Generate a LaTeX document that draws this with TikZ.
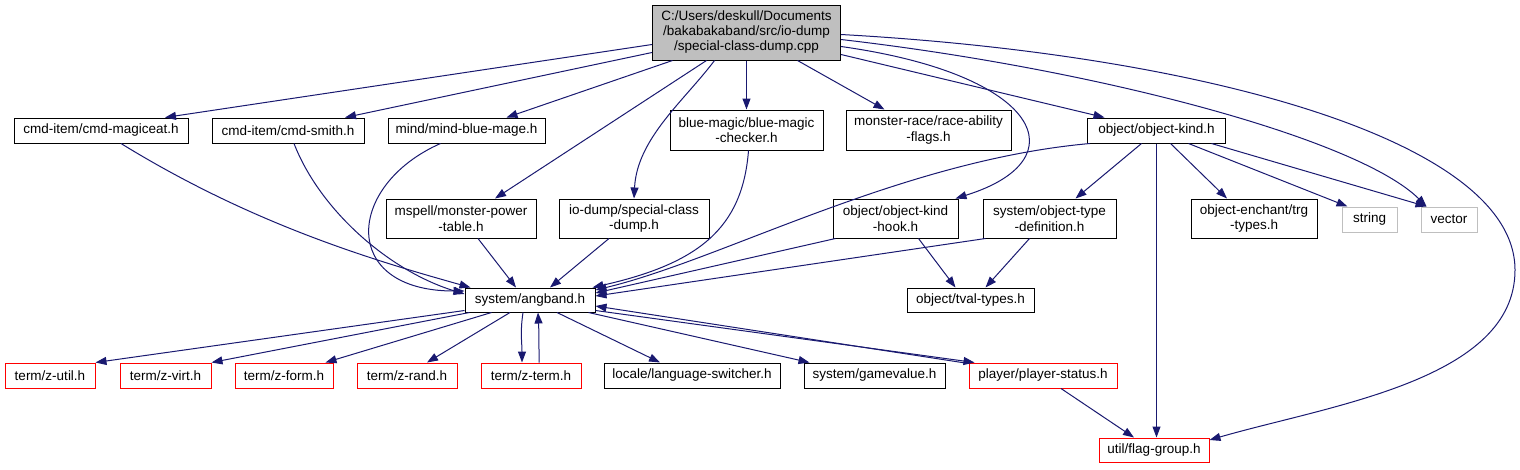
\documentclass[tikz,border=0pt]{standalone}
\usepackage{fontspec}
\setmainfont{Liberation Sans}
\usepackage{tikz}
\usetikzlibrary{positioning, arrows.meta, calc}
\definecolor{depblue}{HTML}{191970}
\definecolor{srcgray}{HTML}{BFBFBF}

\begin{document}
\begin{tikzpicture}[x=1pt, y=-1pt,
    hdr/.style={draw=black, fill=white, line width=1pt, inner sep=0pt, align=center,
        minimum height=25, font=\fontsize{13.5}{15.5}\selectfont},
    hdrtwo/.style={hdr, minimum height=39},
    hdrred/.style={hdr, draw=red},
    hdrsys/.style={hdr, draw=srcgray},
    hdrsrc/.style={hdr, fill=srcgray, minimum height=55, font=\fontsize{13.5}{15}\selectfont},
    dep/.style={draw=depblue, line width=1pt, -{Triangle[length=11pt, width=8pt]}}]
    \useasboundingbox (0,0) rectangle (1520,469);

    % Source file (top)
    \node[hdrsrc, minimum width=188] (main) at (746.5,32.5)
        {C:/Users/deskull/Documents\\/bakabakaband/src/io-dump\\/special-class-dump.cpp};

    % First row of includes
    \node[hdr, minimum width=174] (magiceat) at (101,130.5) {cmd-item/cmd-magiceat.h};
    \node[hdr, minimum width=152] (smith) at (288,130.5) {cmd-item/cmd-smith.h};
    \node[hdr, minimum width=157] (mindblue) at (466.5,130.5) {mind/mind-blue-mage.h};
    \node[hdr, minimum width=153, minimum height=40] (bluemagic) at (746.5,130) {blue-magic/blue-magic\\-checker.h};
    \node[hdr, minimum width=165, minimum height=40] (monrace) at (928.5,130) {monster-race/race-ability\\-flags.h};
    \node[hdr, minimum width=138] (objkind) at (1156.5,130.5) {object/object-kind.h};

    % Second row
    \node[hdrtwo, minimum width=150] (monpower) at (461,218.5) {mspell/monster-power\\-table.h};
    \node[hdrtwo, minimum width=150] (iodump) at (634,218.5) {io-dump/special-class\\-dump.h};
    \node[hdrtwo, minimum width=125] (kindhook) at (895.5,218.5) {object/object-kind\\-hook.h};
    \node[hdrtwo, minimum width=133] (typedef) at (1049.5,218.5) {system/object-type\\-definition.h};
    \node[hdrtwo, minimum width=126] (trgtypes) at (1254,218.5) {object-enchant/trg\\-types.h};
    \node[hdrsys, minimum width=55] (string) at (1369.5,219.5) {string};
    \node[hdrsys, minimum width=56] (vector) at (1449,219.5) {vector};

    % Third row
    \node[hdr, minimum width=130, minimum height=24] (angband) at (530,300) {system/angband.h};
    \node[hdr, minimum width=127, minimum height=24] (tval) at (970.5,300) {object/tval-types.h};

    % Fourth row
    \node[hdrred, minimum width=90] (zutil) at (50,375.5) {term/z-util.h};
    \node[hdrred, minimum width=91] (zvirt) at (165.5,375.5) {term/z-virt.h};
    \node[hdrred, minimum width=98] (zform) at (284,375.5) {term/z-form.h};
    \node[hdrred, minimum width=100] (zrand) at (407,375.5) {term/z-rand.h};
    \node[hdrred, minimum width=100] (zterm) at (531,375.5) {term/z-term.h};
    \node[hdr, minimum width=176] (langsw) at (692,375.5) {locale/language-switcher.h};
    \node[hdr, minimum width=141] (gamevalue) at (874.5,375.5) {system/gamevalue.h};
    \node[hdrred, minimum width=148] (plstatus) at (1043,375.5) {player/player-status.h};

    % Bottom
    \node[hdrred, minimum width=110, minimum height=24] (flaggroup) at (1154,450) {util/flag-group.h};

    % Includes of the source file
    \draw[dep] ($(main.west)+(0,12)$) -- ($(magiceat.north)+(64,0)$);
    \draw[dep] ($(main.west)+(0,20)$) -- ($(smith.north)+(57,0)$);
    \draw[dep] ($(main.south)+(-74,0)$) -- ($(mindblue.north)+(40,0)$);
    \draw[dep] ($(main.south)+(-40,0)$) -- ($(monpower.north)+(34,0)$);
    \draw[dep] ($(main.south)+(-32,0)$) .. controls +(-30,40) and +(3,-60) .. (iodump.north);
    \draw[dep] (main.south) -- (bluemagic.north);
    \draw[dep] ($(main.south)+(51,0)$) -- ($(monrace.north)+(-44,0)$);
    \draw[dep] ($(main.east)+(0,22)$) -- ($(objkind.north)+(-52,0)$);
    \draw[dep] ($(main.east)+(0,14)$) .. controls +(200,28) and +(125,-39) .. ($(kindhook.north east)+(-3,0)$);
    \draw[dep] ($(main.east)+(0,7)$) .. controls +(260,30) and +(-67,-67) .. ($(vector.north west)+(6,0)$);
    \coordinate (rbend) at (1515,270);
    \draw[dep] ($(main.east)+(0,2)$) .. controls +(360,20) and +(0,-130) .. (rbend)
        .. controls +(0,110) and +(121,-35) .. ($(flaggroup.east)+(0,-10)$);

    % object/object-kind.h
    \draw[dep] ($(objkind.south west)+(3,0)$) .. controls +(-190,17) and +(126,-30) .. ($(angband.east)+(0,-10)$);
    \draw[dep] ($(objkind.south)+(-15,0)$) -- ($(typedef.north)+(26,0)$);
    \draw[dep] (objkind.south) -- (objkind.south |- flaggroup.north);
    \draw[dep] ($(objkind.south)+(14,0)$) -- ($(trgtypes.north)+(-27,0)$);
    \draw[dep] ($(objkind.south)+(32,0)$) -- ($(string.north west)+(6,0)$);
    \draw[dep] ($(objkind.south)+(55,0)$) -- ($(vector.north west)+(6,0)$);

    % Into system/angband.h
    \draw[dep] ($(magiceat.south)+(20,0)$) .. controls +(130,80) and +(-100,-28) .. ($(angband.north west)+(6,0)$);
    \draw[dep] ($(smith.south)+(6,0)$) .. controls +(26,67) and +(-75,-23) .. ($(angband.west)+(0,-6)$);
    \draw[dep] ($(mindblue.south)+(-26,0)$) .. controls +(-95,42) and +(-125,0) .. ($(angband.west)+(0,-9)$);
    \draw[dep] ($(monpower.south)+(17,0)$) -- ($(angband.north)+(-14,0)$);
    \draw[dep] ($(iodump.south)+(-25,0)$) -- ($(angband.north)+(20,0)$);
    \draw[dep] ($(bluemagic.south)+(2,0)$) .. controls +(-6,78) and +(106,-24) .. ($(angband.north east)+(-3,0)$);
    \draw[dep] ($(kindhook.south west)+(3,0)$) -- ($(angband.east)+(0,-7)$);
    \draw[dep] ($(typedef.south west)+(3,0)$) -- ($(angband.east)+(0,-4)$);
    \draw[dep] ($(kindhook.south)+(23,0)$) -- ($(tval.north)+(-15,0)$);
    \draw[dep] ($(typedef.south)+(-20,0)$) -- ($(tval.north)+(15,0)$);

    % Includes of system/angband.h
    \draw[dep] ($(angband.south west)+(0,-2)$) -- (zutil.north east);
    \draw[dep] ($(angband.south west)+(5,0)$) -- (zvirt.north east);
    \draw[dep] ($(angband.south west)+(27,0)$) -- ($(zform.north east)+(-8,0)$);
    \draw[dep] ($(angband.south)+(-20,0)$) -- ($(zrand.north)+(20,0)$);
    \draw[dep] ($(angband.south)+(-7,0)$) .. controls +(-3,20) and +(0,-20) .. ($(zterm.north)+(-9,0)$);
    \draw[dep] ($(zterm.north)+(8,0)$) .. controls +(0,-20) and +(1,20) .. ($(angband.south)+(8,0)$);
    \draw[dep] ($(angband.south)+(27,0)$) -- ($(langsw.north)+(-32,0)$);
    \draw[dep] ($(angband.south east)+(-7,0)$) -- ($(gamevalue.north west)+(6,0)$);
    \draw[dep] ($(angband.south east)+(0,-2)$) -- ($(plstatus.north west)+(6,0)$);
    \draw[dep] ($(plstatus.north west)+(0,1)$) -- ($(angband.east)+(0,6)$);
    \draw[dep] ($(plstatus.south)+(18,0)$) -- ($(flaggroup.north)+(-20,0)$);
\end{tikzpicture}
\end{document}
